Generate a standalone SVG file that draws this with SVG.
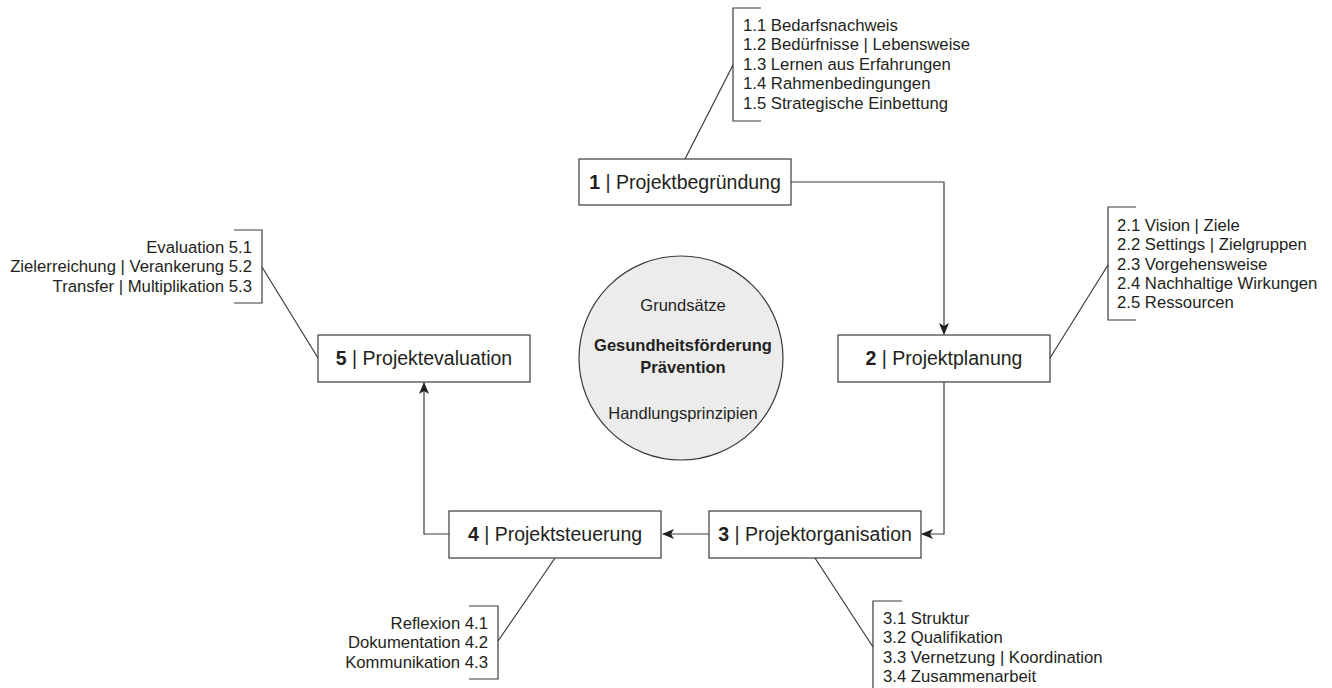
<svg xmlns="http://www.w3.org/2000/svg" width="1332" height="688" viewBox="0 0 1332 688">
<style>
.box{fill:#fff;stroke:#3a3a3a;stroke-width:1.2}
.lbl{font-family:"Liberation Sans",Arial,sans-serif;font-size:19.5px;fill:#231f20;text-anchor:middle}
.lbl tspan.b{font-weight:bold}
.lst{font-family:"Liberation Sans",Arial,sans-serif;font-size:16.7px;fill:#231f20}
.end{text-anchor:end}
.br{fill:none;stroke:#3a3a3a;stroke-width:1.2}
.con{fill:none;stroke:#3a3a3a;stroke-width:1.2}
.ctr{font-family:"Liberation Sans",Arial,sans-serif;font-size:16.5px;fill:#231f20;text-anchor:middle}
</style>
<defs>
<marker id="arr" viewBox="0 0 12 10" refX="11" refY="5" markerWidth="12" markerHeight="10" markerUnits="userSpaceOnUse" orient="auto">
<path d="M0,0 L12,5 L0,10 L3,5 z" fill="#231f20"/>
</marker>
</defs>
<rect width="1332" height="688" fill="#fff"/>

<g id="connectors">
<path class="con" d="M791,182 H944 V334" marker-end="url(#arr)"/>
<path class="con" d="M944,382 V534 H922" marker-end="url(#arr)"/>
<path class="con" d="M709,534 H663" marker-end="url(#arr)"/>
<path class="con" d="M449,534 H424 V383" marker-end="url(#arr)"/>
<line class="con" x1="685" y1="159" x2="733" y2="65"/>
<line class="con" x1="1050" y1="358" x2="1108" y2="265"/>
<line class="con" x1="318" y1="358" x2="262" y2="267"/>
<line class="con" x1="555" y1="558" x2="498" y2="641"/>
<line class="con" x1="815" y1="558" x2="873" y2="647"/>
</g>

<g id="center">
<circle cx="681" cy="358" r="102" fill="#ececec" stroke="#3a3a3a" stroke-width="1.2"/>
<text class="ctr" x="683" y="311">Grundsätze</text>
<text class="ctr" x="683" y="351" font-weight="bold">Gesundheitsförderung</text>
<text class="ctr" x="683" y="373" font-weight="bold">Prävention</text>
<text class="ctr" x="683" y="419">Handlungsprinzipien</text>
</g>

<g id="node1">
<rect class="box" x="579" y="159" width="212" height="46"/>
<text class="lbl" x="685" y="189"><tspan class="b">1</tspan> | Projektbegründung</text>
</g>
<g id="node2">
<rect class="box" x="838" y="335" width="212" height="47"/>
<text class="lbl" x="944" y="365"><tspan class="b">2</tspan> | Projektplanung</text>
</g>
<g id="node3">
<rect class="box" x="709" y="511" width="212" height="47"/>
<text class="lbl" x="815" y="541"><tspan class="b">3</tspan> | Projektorganisation</text>
</g>
<g id="node4">
<rect class="box" x="449" y="511" width="212" height="47"/>
<text class="lbl" x="555" y="541"><tspan class="b">4</tspan> | Projektsteuerung</text>
</g>
<g id="node5">
<rect class="box" x="318" y="335" width="212" height="47"/>
<text class="lbl" x="424" y="365"><tspan class="b">5</tspan> | Projektevaluation</text>
</g>

<g id="list1">
<path class="br" d="M761,8 H733 V121 H761"/>
<text class="lst" x="743" y="31">1.1 Bedarfsnachweis</text>
<text class="lst" x="743" y="50.4">1.2 Bedürfnisse | Lebensweise</text>
<text class="lst" x="743" y="69.8">1.3 Lernen aus Erfahrungen</text>
<text class="lst" x="743" y="89.2">1.4 Rahmenbedingungen</text>
<text class="lst" x="743" y="108.6">1.5 Strategische Einbettung</text>
</g>
<g id="list2">
<path class="br" d="M1136,207 H1108 V320 H1136"/>
<text class="lst" x="1117" y="231">2.1 Vision | Ziele</text>
<text class="lst" x="1117" y="250.3">2.2 Settings | Zielgruppen</text>
<text class="lst" x="1117" y="269.6">2.3 Vorgehensweise</text>
<text class="lst" x="1117" y="288.9">2.4 Nachhaltige Wirkungen</text>
<text class="lst" x="1117" y="308.2">2.5 Ressourcen</text>
</g>
<g id="list3">
<path class="br" d="M902,601 H873 V695 H902"/>
<text class="lst" x="883" y="624">3.1 Struktur</text>
<text class="lst" x="883" y="643.3">3.2 Qualifikation</text>
<text class="lst" x="883" y="662.6">3.3 Vernetzung | Koordination</text>
<text class="lst" x="883" y="681.9">3.4 Zusammenarbeit</text>
</g>
<g id="list4">
<path class="br" d="M469,606 H498 V679 H469"/>
<text class="lst end" x="488" y="629">Reflexion 4.1</text>
<text class="lst end" x="488" y="648.3">Dokumentation 4.2</text>
<text class="lst end" x="488" y="667.6">Kommunikation 4.3</text>
</g>
<g id="list5">
<path class="br" d="M234,230 H262 V303 H234"/>
<text class="lst end" x="252" y="253">Evaluation 5.1</text>
<text class="lst end" x="252" y="272.3">Zielerreichung | Verankerung 5.2</text>
<text class="lst end" x="252" y="291.6">Transfer | Multiplikation 5.3</text>
</g>
</svg>
